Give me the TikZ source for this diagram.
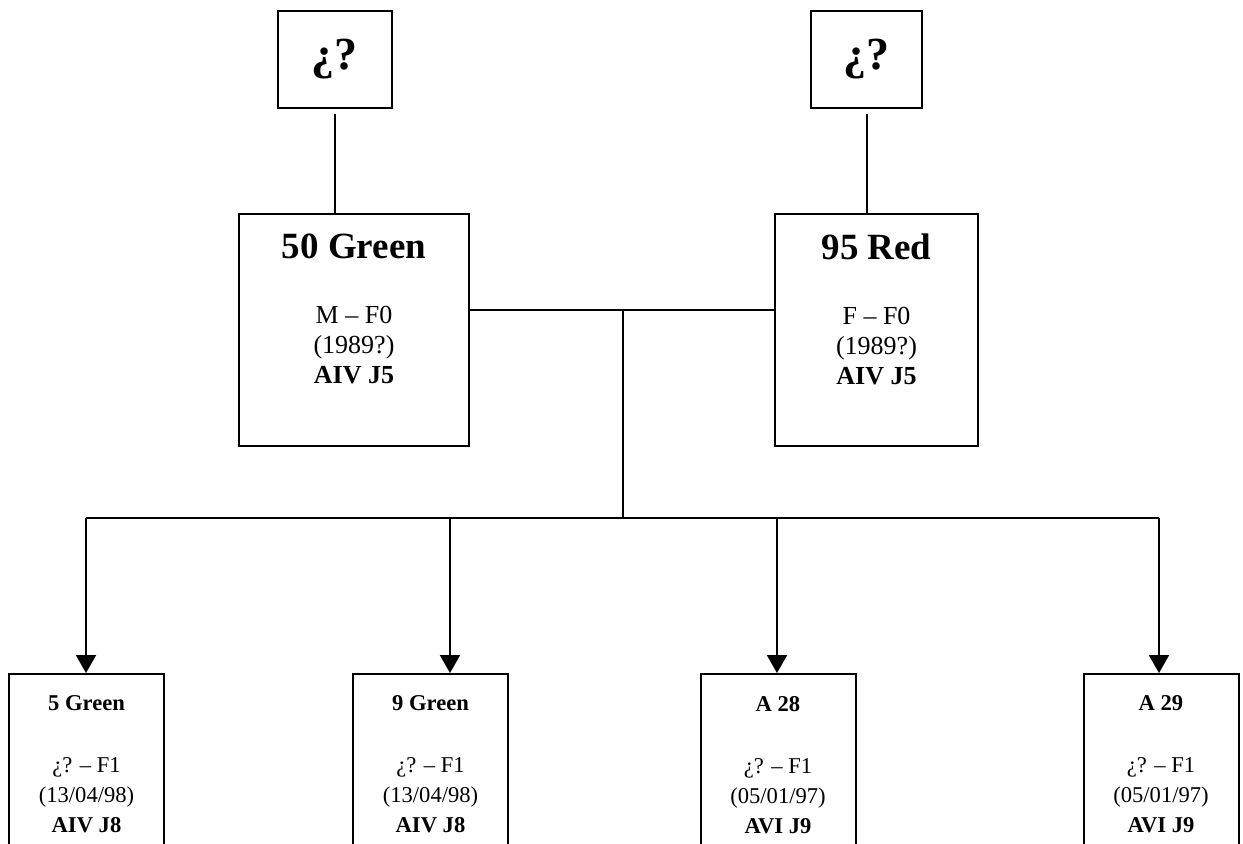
\documentclass[tikz,border=0pt]{standalone}
\usepackage{fontspec}
\setmainfont{Liberation Serif}
\usetikzlibrary{arrows.meta,positioning}

\begin{document}
\begin{tikzpicture}[x=0.5pt, y=-0.5pt,
  line width=1pt,
  q/.style={draw, minimum width=57pt, minimum height=48.5pt, inner sep=0pt,
            font=\fontsize{23}{26}\selectfont\bfseries},
  par/.style={draw, minimum height=116pt, inner sep=0pt},
  kid/.style={draw, minimum width=77.5pt, minimum height=120pt, inner sep=0pt,
              anchor=north},
  ptxt/.style={anchor=north, align=center, inner sep=0pt,
               font=\fontsize{13}{15}\selectfont},
  ktxt/.style={anchor=north, align=center, inner sep=0pt,
               font=\fontsize{11.3}{15}\selectfont},
  a/.style={-{Triangle[width=10pt, length=9pt]}}]

\useasboundingbox (0,0) rectangle (1243,843);

% ---------------- unknown grandparents ------------------------------------
\node[q] (q1) at (334.5,59.5) {¿?};
\node[q, minimum width=55.5pt] (q2) at (866.5,59.5) {¿?};

% ---------------- the F0 pair ---------------------------------------------
\node[par, minimum width=115pt] (g50) at (354,330) {};
\node[par, minimum width=101.5pt] (r95) at (876.5,330) {};

\node[ptxt] (g50t) at (354,233)
      {{\fontsize{18.5}{20}\selectfont\bfseries 50 Green}\\[17.5pt]
       M – F0\\(1989?)\\\textbf{AIV J5}};
\node[ptxt] (r95t) at (876.5,233)
      {{\fontsize{18.5}{20}\selectfont\bfseries 95 Red}\\[17.5pt]
       F – F0\\(1989?)\\\textbf{AIV J5}};

\draw[shorten <=2.5pt] (q1.south) -- (q1.south |- g50.north);
\draw[shorten <=2.5pt] (q2.south) -- (q2.south |- r95.north);

\coordinate (fam) at (623,310);
\draw (g50.east |- fam) -- (r95.west |- fam);

% ---------------- the F1 offspring ----------------------------------------
\foreach \i/\x/\ax/\nm/\dt/\cd in
    {1/86.5/86/{5 Green}/{(13/04/98)}/{AIV J8},
     2/430.5/450/{9 Green}/{(13/04/98)}/{AIV J8},
     3/778/777/{A 28}/{(05/01/97)}/{AVI J9},
     4/1161/1159/{A 29}/{(05/01/97)}/{AVI J9}} {
  \node[kid] (c\i) at (\x,673) {};
  \node[ktxt] (c\i t) at (\x,695)
        {\textbf{\nm}\\[16pt]¿? – F1\\\dt\\\textbf{\cd}};
  \coordinate (a\i) at (\ax,518);
  \draw[a] (a\i) -- (a\i |- c\i.north);
}

\draw (fam) -- (fam |- a1);
\draw (a1) -- (a4);
\end{tikzpicture}
\end{document}
